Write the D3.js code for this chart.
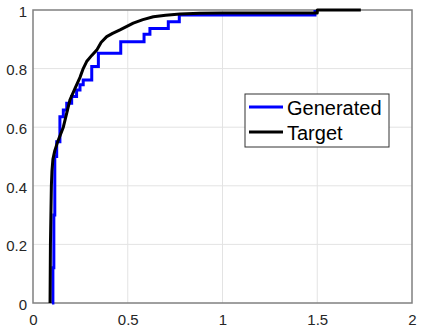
<!DOCTYPE html>
<html>
<head>
<meta charset="utf-8">
<script src="https://cdn.jsdelivr.net/npm/d3@7"></script>
<style>
  body { margin: 0; background: #fff; }
  text { font-family: "Liberation Sans", Arial, sans-serif; fill: #262626; }
</style>
</head>
<body>
<div id="chart"></div>
<script>
// empirical cdf of the generated samples (step after each x)
let genX = [0.10, 0.105, 0.11, 0.115, 0.125, 0.142, 0.16, 0.178, 0.204, 0.23, 0.248, 0.265, 0.31, 0.345, 0.463, 0.586, 0.617, 0.714, 0.772, 1.488];
let genY = [0.0, 0.12, 0.30, 0.50, 0.55, 0.636, 0.659, 0.682, 0.705, 0.727, 0.745, 0.761, 0.807, 0.852, 0.892, 0.917, 0.937, 0.960, 0.983, 1.0];

// target cdf
let targetX = [0.09, 0.092, 0.097, 0.10, 0.105, 0.115, 0.13, 0.16, 0.195, 0.22, 0.248, 0.265, 0.283, 0.31, 0.336, 0.36, 0.389, 0.42, 0.459, 0.529, 0.58, 0.635, 0.7, 0.776, 0.88, 1.0, 1.2, 1.5, 1.5, 1.73];
let targetY = [0.0, 0.2, 0.4, 0.45, 0.49, 0.52, 0.55, 0.60, 0.693, 0.73, 0.77, 0.80, 0.824, 0.845, 0.863, 0.89, 0.909, 0.92, 0.932, 0.955, 0.967, 0.977, 0.982, 0.986, 0.989, 0.99, 0.99, 0.99, 1.0, 1.0];

let xTicks = [0, 0.5, 1, 1.5, 2];
let yTicks = [0, 0.2, 0.4, 0.6, 0.8, 1];
let xTickLabels = ['0', '0.5', '1', '1.5', '2'];
let yTickLabels = ['0', '0.2', '0.4', '0.6', '0.8', '1'];
let seriesNames = ['Generated', 'Target'];
let seriesColors = ['#0000ff', '#000000'];

let margin = {top: 10, right: 11, bottom: 25, left: 33};
let width = 423 - margin.left - margin.right;
let height = 328 - margin.top - margin.bottom;

let svg = d3.select('#chart')
        .append('svg')
        .attr('width', 423)
        .attr('height', 328);

let g = svg.append('g')
        .attr('transform', 'translate(' + margin.left + ',' + margin.top + ')');

let xScale = d3.scaleLinear().domain([0, 2]).range([0, width]);
let yScale = d3.scaleLinear().domain([0, 1]).range([height, 0]);

// grid
g.append('g').attr('class', 'grid')
        .selectAll('line.gx')
        .data(xTicks.slice(1, -1))
        .enter().append('line')
        .attr('x1', function(d) { return xScale(d); })
        .attr('x2', function(d) { return xScale(d); })
        .attr('y1', 0)
        .attr('y2', height)
        .style('stroke', '#e3e3e3')
        .style('stroke-width', 1);

g.append('g').attr('class', 'grid')
        .selectAll('line.gy')
        .data(yTicks.slice(1, -1))
        .enter().append('line')
        .attr('y1', function(d) { return yScale(d); })
        .attr('y2', function(d) { return yScale(d); })
        .attr('x1', 0)
        .attr('x2', width)
        .style('stroke', '#e3e3e3')
        .style('stroke-width', 1);

// axes (labels only, box drawn below)
let xAxis = d3.axisBottom(xScale)
        .tickValues(xTicks)
        .tickSize(0)
        .tickPadding(0)
        .tickFormat(function(d, i) { return xTickLabels[i]; });

let yAxis = d3.axisLeft(yScale)
        .tickValues(yTicks)
        .tickSize(0)
        .tickPadding(6)
        .tickFormat(function(d, i) { return yTickLabels[i]; });

let xAxis_g = g.append('g')
        .attr('class', 'x axis')
        .attr('transform', 'translate(0,' + height + ')')
        .call(xAxis);
xAxis_g.select('.domain').remove();
xAxis_g.selectAll('text')
        .attr('y', 22)
        .attr('dy', 0)
        .style('font-size', '15px');

let yAxis_g = g.append('g')
        .attr('class', 'y axis')
        .call(yAxis);
yAxis_g.select('.domain').remove();
yAxis_g.selectAll('text')
        .attr('dy', '0.42em')
        .style('font-size', '15px');

// axes box
g.append('rect')
        .attr('x', 0)
        .attr('y', 0)
        .attr('width', width)
        .attr('height', height)
        .style('fill', 'none')
        .style('stroke', '#808080')
        .style('stroke-width', 1.5);

// curves
let genLine = d3.line()
        .x(function(d) { return xScale(d[0]); })
        .y(function(d) { return yScale(d[1]); })
        .curve(d3.curveStepAfter);

let targetLine = d3.line()
        .x(function(d) { return xScale(d[0]); })
        .y(function(d) { return yScale(d[1]); });

g.append('path')
        .datum(d3.zip(genX, genY))
        .attr('d', genLine)
        .style('fill', 'none')
        .style('stroke', seriesColors[0])
        .style('stroke-width', 3);

g.append('path')
        .datum(d3.zip(targetX, targetY))
        .attr('d', targetLine)
        .style('fill', 'none')
        .style('stroke', seriesColors[1])
        .style('stroke-width', 3)
        .style('stroke-linejoin', 'round');

// legend
let legend = svg.append('g')
        .attr('class', 'legend')
        .attr('transform', 'translate(245,94)');

legend.append('rect')
        .attr('width', 144)
        .attr('height', 53)
        .style('fill', '#fff')
        .style('stroke', '#333')
        .style('stroke-width', 1);

let item = legend.selectAll('.item')
        .data(seriesNames)
        .enter().append('g')
        .attr('class', 'item')
        .attr('transform', function(d, i) { return 'translate(0,' + (13 + i * 25) + ')'; });

item.append('line')
        .attr('x1', 4)
        .attr('x2', 38)
        .style('stroke', function(d, i) { return seriesColors[i]; })
        .style('stroke-width', 3);

item.append('text')
        .attr('x', 42)
        .attr('y', 8)
        .style('font-size', '20px')
        .style('fill', '#000')
        .text(function(d) { return d; });
</script>
</body>
</html>
